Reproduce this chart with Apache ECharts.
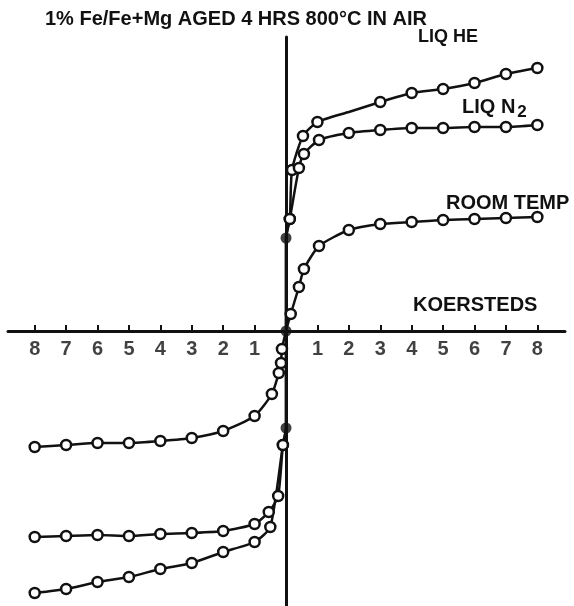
<!DOCTYPE html>
<html><head><meta charset="utf-8">
<script src="https://cdn.jsdelivr.net/npm/echarts@6/dist/echarts.min.js"></script>
<style>html,body{margin:0;padding:0;background:#fff}#c{width:574px;height:606px}</style>
</head><body><div id="c"></div>
<script>
const titleText = "1% Fe/Fe+Mg AGED 4 HRS 800°C IN AIR";
const xTickValues = [-8,-7,-6,-5,-4,-3,-2,-1,1,2,3,4,5,6,7,8];

const heX = [-8,-7,-6,-5,-4,-3,-2,-1,-0.5,-0.1,0,0,0,0.12,0.19,0.54,1,2,3,4,5,6,7,8];
const heY = [-26.2,-25.8,-25.1,-24.6,-23.8,-23.2,-22.1,-21.1,-19.6,-11.4,-9.7,0,9.3,11.2,16.1,19.5,20.9,21.9,22.9,23.8,24.2,24.8,25.7,26.3];
const heNoMarkerX = [2];

const n2X = [-8,-7,-6,-5,-4,-3,-2,-1,-0.55,-0.25,-0.1,0,0,0,0.12,0.41,0.57,1.05,2,3,4,5,6,7,8];
const n2Y = [-20.6,-20.5,-20.4,-20.5,-20.3,-20.2,-20.0,-19.3,-18.1,-16.5,-11.4,-9.7,0,9.3,11.2,16.3,17.7,19.1,19.8,20.1,20.3,20.3,20.4,20.4,20.6];

const roomX = [-8,-7,-6,-5,-4,-3,-2,-1,-0.45,-0.23,-0.16,-0.13,0,0.15,0.41,0.57,1.05,2,3,4,5,6,7,8];
const roomY = [-11.6,-11.4,-11.2,-11.2,-11.0,-10.7,-10.0,-8.5,-6.3,-4.2,-3.2,-1.8,0,1.7,4.4,6.2,8.5,10.1,10.7,10.9,11.1,11.2,11.3,11.4];

const filledX = [0,0,0];
const filledY = [9.3,0,-9.7];

const FONT = '"Liberation Sans", Arial, sans-serif';

function build(xs, ys, noMarker) {
  return xs.map((x, i) => {
    const item = { value: [x, ys[i]] };
    if (x === 0 || (noMarker && noMarker.indexOf(x) >= 0)) item.symbol = 'none';
    return item;
  });
}

function lineSeries(name, xs, ys, noMarker) {
  return {
    name: name,
    type: 'line',
    data: build(xs, ys, noMarker),
    smooth: 0.2,
    symbol: 'circle',
    symbolSize: 10,
    showAllSymbol: true,
    lineStyle: { color: '#111', width: 2.5 },
    itemStyle: { color: '#fff', borderColor: '#111', borderWidth: 2.5 },
    z: 3
  };
}

const chart = echarts.init(document.getElementById('c'), null, { renderer: 'canvas' });
chart.setOption({
  animation: false,
  backgroundColor: '#fff',
  title: {
    text: titleText,
    left: 40, top: 4,
    textStyle: { fontFamily: FONT, fontWeight: 'bold', fontSize: 20, color: '#111' }
  },
  grid: { left: 8, right: 9, top: 37, bottom: 0, containLabel: false, outerBoundsMode: 'none' },
  xAxis: {
    type: 'value', min: -8.85, max: 8.88,
    axisLine: { onZero: true, lineStyle: { color: '#111', width: 3 } },
    axisTick: { show: true, inside: true, length: 6, customValues: xTickValues, lineStyle: { color: '#111', width: 2 } },
    axisLabel: { show: false },
    splitLine: { show: false }
  },
  yAxis: {
    type: 'value', min: -27.5, max: 29.4,
    axisLine: { show: true, onZero: true, lineStyle: { color: '#111', width: 3 } },
    axisTick: { show: false }, axisLabel: { show: false }, splitLine: { show: false }
  },
  series: [
    lineSeries('LIQ HE', heX, heY, heNoMarkerX),
    lineSeries('LIQ N2', n2X, n2Y),
    lineSeries('ROOM TEMP', roomX, roomY),
    {
      name: 'filled', type: 'scatter',
      data: filledX.map((x, i) => [x, filledY[i]]),
      symbol: 'circle', symbolSize: 11,
      itemStyle: { color: '#111' }, z: 4
    },
    {
      name: 'tickLabels', type: 'scatter',
      data: xTickValues.map(v => [v, 0]),
      symbolSize: 0, silent: true,
      label: {
        show: true, position: 'bottom', distance: 8,
        formatter: p => String(Math.abs(p.value[0])),
        fontFamily: FONT, fontWeight: 'bold', fontSize: 20, color: '#111'
      }
    }
  ],
  graphic: [
    { type: 'text', left: 418, top: 28, style: { text: 'LIQ HE', font: 'bold 18px ' + FONT, fill: '#111' } },
    { type: 'text', left: 462, top: 97, style: { text: 'LIQ N{s|2}', font: 'bold 20px ' + FONT, fill: '#111', rich: { s: { font: 'bold 17px ' + FONT, fill: '#111', padding: [10, 0, 0, 2] } } } },
    { type: 'text', left: 446, top: 193, style: { text: 'ROOM TEMP', font: 'bold 20px ' + FONT, fill: '#111' } },
    { type: 'text', left: 413, top: 295, style: { text: 'KOERSTEDS', font: 'bold 20px ' + FONT, fill: '#111' } }
  ]
});
</script>
</body></html>
